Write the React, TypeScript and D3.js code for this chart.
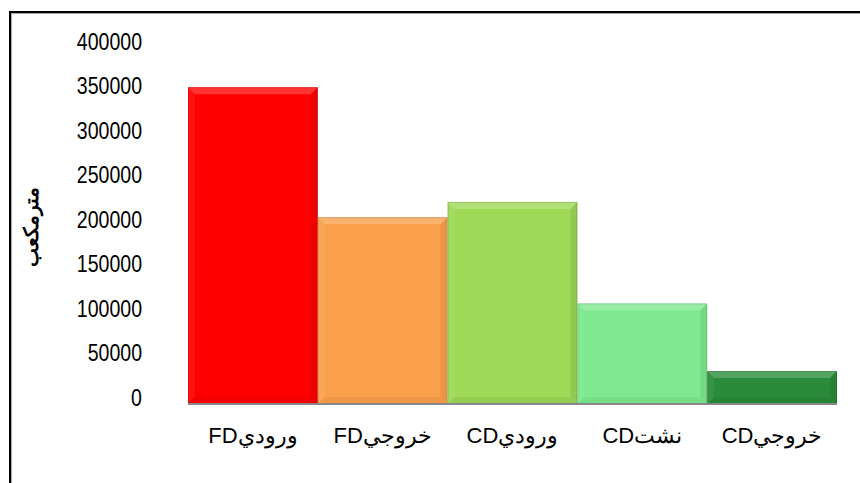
import React from "react";
import * as d3 from "d3";

const categories = ["وروديFD", "خروجيFD", "وروديCD", "نشتCD", "خروجيCD"];
const values = [356000, 210000, 227000, 113000, 37000];
const colors = ["#FF0000", "#FBA04C", "#9ED957", "#7EE98E", "#2A8C3A"];
const yTicks = [0, 50000, 100000, 150000, 200000, 250000, 300000, 350000, 400000];
const yTitle = "مترمكعب";

const W = 860;
const H = 483;
const font = "'Liberation Sans', Arial, sans-serif";

export default function App() {
  const x = d3.scaleBand<string>().domain(categories).range([188, 837]).padding(0);
  const y = d3.scaleLinear().domain([0, 400000]).range([404, 48]);
  const b = 7;
  return (
    <svg width={W} height={H} style={{ position: "absolute", left: 0, top: 0 }}>
      <rect x={0} y={0} width={W} height={H} fill="#fff" />
      <rect x={11} y={13} width={W + 20} height={H + 20} fill="none" stroke="#aaa" strokeWidth={2} />
      <rect x={10} y={12} width={W + 20} height={H + 20} fill="none" stroke="#000" strokeWidth={2} />
      {yTicks.map((t) => (
        <text
          key={t}
          transform={`translate(142, ${y(t) - 6}) scale(0.85, 1)`}
          textAnchor="end"
          dominantBaseline="central"
          fontFamily={font}
          fontSize={23}
          fill="#000"
        >
          {t}
        </text>
      ))}
      <text
        transform={`translate(31, ${227}) rotate(-90)`}
        textAnchor="middle"
        dominantBaseline="central"
        fontFamily={font}
        fontWeight="bold"
        fontSize={20}
        direction="rtl"
      >
        {yTitle}
      </text>
      {categories.map((c, i) => {
        const x0 = x(c)!;
        const w = x.bandwidth();
        const y0 = y(values[i]);
        const h = y(0) - y0;
        const bb = Math.min(b, h / 2);
        return (
          <g key={c}>
            <rect x={x0} y={y0} width={w} height={h} fill={colors[i]} />
            <polygon
              points={`${x0},${y0} ${x0 + w},${y0} ${x0 + w - bb},${y0 + bb} ${x0 + bb},${y0 + bb}`}
              fill="#fff"
              opacity={0.2}
            />
            <polygon
              points={`${x0},${y0} ${x0 + bb},${y0 + bb} ${x0 + bb},${y0 + h - bb} ${x0},${y0 + h}`}
              fill="#fff"
              opacity={0.06}
            />
            <polygon
              points={`${x0 + w},${y0} ${x0 + w - bb},${y0 + bb} ${x0 + w - bb},${y0 + h - bb} ${x0 + w},${y0 + h}`}
              fill="#000"
              opacity={0.07}
            />
            <polygon
              points={`${x0},${y0 + h} ${x0 + bb},${y0 + h - bb} ${x0 + w - bb},${y0 + h - bb} ${x0 + w},${y0 + h}`}
              fill="#000"
              opacity={0.05}
            />
            <rect x={x0 + 0.5} y={y0 + 0.5} width={w - 1} height={h - 1} fill="none" stroke="#000" strokeOpacity={0.12} strokeWidth={1} />
          </g>
        );
      })}
      <line x1={188} x2={837} y1={y(0)} y2={y(0)} stroke="#888" strokeWidth={2} />
      {categories.map((c) => (
        <text
          key={c}
          x={x(c)! + x.bandwidth() / 2}
          y={435}
          textAnchor="middle"
          dominantBaseline="central"
          fontFamily={font}
          fontSize={22}
          direction="rtl"
          fill="#000"
        >
          {c}
        </text>
      ))}
    </svg>
  );
}
